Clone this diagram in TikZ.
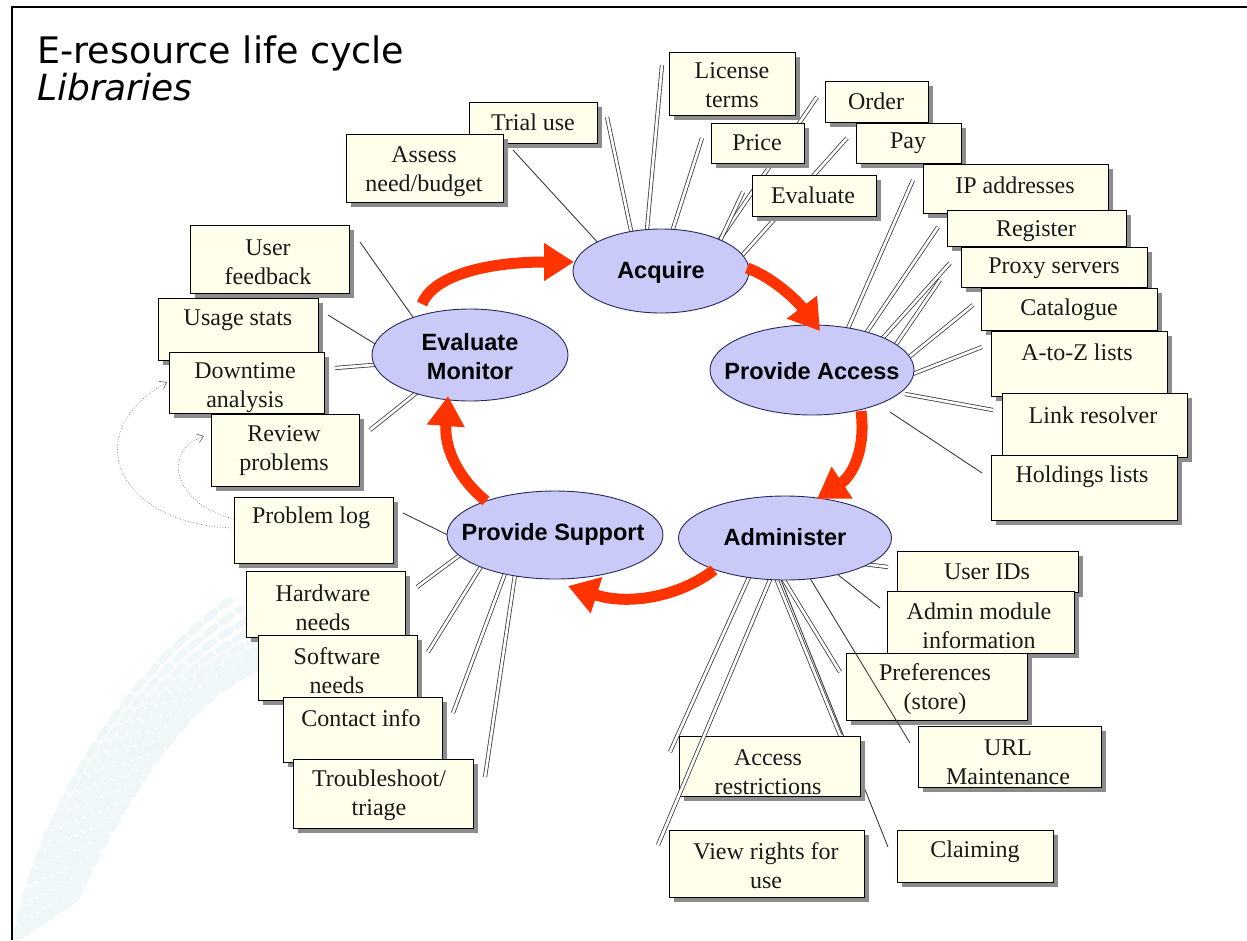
\documentclass[tikz,border=0pt]{standalone}
\usepackage{fontspec}
\setmainfont{Liberation Serif}
\newfontfamily\titlefont{DejaVu Sans}
\newfontfamily\ellfont{Liberation Sans}
\usetikzlibrary{arrows.meta,shadows,shapes.geometric}
\definecolor{boxfill}{RGB}{255,255,236}
\definecolor{ellfill}{RGB}{202,202,248}
\definecolor{elldraw}{RGB}{40,40,90}
\definecolor{redarr}{RGB}{255,51,0}
\definecolor{conn}{RGB}{60,60,60}
\definecolor{wmcol}{RGB}{239,247,249}
\tikzset{
 box/.style={draw=black, line width=1.3pt, fill=boxfill, inner sep=0pt,
   drop shadow={shadow xshift=4pt, shadow yshift=-4pt, fill=black!45, opacity=1}},
 boxtxt/.style={font=\fontsize{24}{29}\selectfont, align=center, inner sep=0pt, text=black!90},
 ell/.style={ellipse, draw=elldraw, line width=0.9pt, fill=ellfill, inner sep=0pt},
 elltxt/.style={font=\ellfont\bfseries\fontsize{23.5}{29}\selectfont, align=center, inner sep=0pt},
 sline/.style={draw=conn, line width=0.9pt},
 dline/.style={draw=conn, line width=0.8pt, double=white, double distance=2.6pt},
 redflow/.style={draw=redarr, line width=11pt, -{Triangle[length=30pt,width=36pt]}},
 dotarr/.style={draw=black!55, line width=0.7pt, dotted, -{Straight Barb[length=6pt,width=9pt,line width=0.7pt]}},
 wmline/.style={draw=wmcol, line width=7pt, line cap=round, dash pattern=on 12pt off 8pt},
}
\newcommand\bx[8]{%
 \pgfmathsetmacro\bw{#4-#2}\pgfmathsetmacro\bh{#5-#3}%
 \node[box, minimum width=\bw pt, minimum height=\bh pt, anchor=north west] (#1) at (#2,#3) {};
 \node[boxtxt] (#1t) at (#6,#7) {#8};}
\begin{document}
\begin{tikzpicture}[x=1pt,y=-1pt]
\useasboundingbox (0,0) rectangle (1247,940);
\fill[white] (0,0) rectangle (1247,940);
% faint watermark
\foreach \k in {0,...,10}{
  \draw[wmline] ({15+\k*6},{940-\k*4}) .. controls ({40+\k*14},{820-\k*14}) and ({110+\k*16},{690-\k*6}) .. ({230+\k*12},{600+\k*8});
}
% frame
\draw[black, line width=2pt] (12,940) -- (12,7) -- (1247,7);
% title
\node[anchor=base west, font=\titlefont\fontsize{36.5}{42}\selectfont, inner sep=0pt] (title) at (37,63) {E-resource life cycle};
\node[anchor=base west, font=\titlefont\itshape\fontsize{36}{42}\selectfont, inner sep=0pt] (subtitle) at (37,100) {Libraries};

% ---- connector lines (under boxes)
% Acquire
\coordinate (a1s) at (600,245); \coordinate (a1e) at (513,150);
\coordinate (a2s) at (633,240); \coordinate (a2e) at (607,117);
\coordinate (a3s) at (646,240); \coordinate (a3e) at (662,65);
\coordinate (a4s) at (671,235); \coordinate (a4e) at (702,138);
\coordinate (a5s) at (716,245); \coordinate (a5e) at (817,97);
\coordinate (a6s) at (718,245); \coordinate (a6e) at (743,192);
\coordinate (a7s) at (738,260); \coordinate (a7e) at (847,138);
\draw[sline] (a1s) -- (a1e);
\draw[dline] (a2s) -- (a2e);
\draw[dline] (a3s) -- (a3e);
\draw[dline] (a4s) -- (a4e);
\draw[dline] (a5s) -- (a5e);
\draw[dline] (a6s) -- (a6e);
\draw[dline] (a7s) -- (a7e);
% Provide Access
\coordinate (p1s) at (842,342); \coordinate (p1e) at (913,180);
\coordinate (p2s) at (858,345); \coordinate (p2e) at (938,227);
\coordinate (p3s) at (872,350); \coordinate (p3e) at (950,263);
\coordinate (p4s) at (888,356); \coordinate (p4e) at (940,280);
\coordinate (p5s) at (898,366); \coordinate (p5e) at (973,305);
\coordinate (p6s) at (905,377); \coordinate (p6e) at (982,347);
\coordinate (p7s) at (905,394); \coordinate (p7e) at (993,410);
\coordinate (p8s) at (890,412); \coordinate (p8e) at (982,473);
\foreach \i in {1,...,7} {\draw[dline] (p\i s) -- (p\i e);}
\draw[sline] (p8s) -- (p8e);
% Evaluate Monitor
\coordinate (e1s) at (422,330); \coordinate (e1e) at (360,242);
\coordinate (e2s) at (385,350); \coordinate (e2e) at (328,315);
\coordinate (e3s) at (385,364); \coordinate (e3e) at (335,368);
\coordinate (e4s) at (420,390); \coordinate (e4e) at (370,430);
\draw[sline] (e1s) -- (e1e);
\draw[sline] (e2s) -- (e2e);
\draw[dline] (e3s) -- (e3e);
\draw[dline] (e4s) -- (e4e);
% Provide Support
\coordinate (s1s) at (458,540); \coordinate (s1e) at (403,513);
\coordinate (s2s) at (464,552); \coordinate (s2e) at (417,587);
\coordinate (s3s) at (482,565); \coordinate (s3e) at (428,652);
\coordinate (s4s) at (507,568); \coordinate (s4e) at (453,713);
\coordinate (s5s) at (516,568); \coordinate (s5e) at (485,777);
\draw[sline] (s1s) -- (s1e);
\foreach \i in {2,...,5} {\draw[dline] (s\i s) -- (s\i e);}
% Administer
\coordinate (d1s) at (855,563); \coordinate (d1e) at (888,567);
\coordinate (d2s) at (832,570); \coordinate (d2e) at (880,608);
\coordinate (d3s) at (779,572); \coordinate (d3e) at (840,672);
\coordinate (d5s) at (776,578); \coordinate (d5e) at (840,735);
\coordinate (d6s) at (750,575); \coordinate (d6e) at (670,752);
\coordinate (dcs) at (781,580); \coordinate (dce) at (888,847);
\draw[dline] (d1s) -- (d1e);
\draw[sline] (d2s) -- (d2e);
\draw[dline] (d3s) -- (d3e);
\draw[dline] (d5s) -- (d5e);
\draw[dline] (d6s) -- (d6e);
\draw[sline] (dcs) -- (dce);

% ---- boxes
\bx{trial}{469}{102}{597}{143}{533}{122}{Trial use}
\bx{assess}{346}{134}{503}{202}{424}{172}{Assess\\need/budget}
\bx{license}{669}{52}{795}{115}{732}{85}{License\\terms}
\bx{price}{711}{123}{804}{163}{757}{143}{Price}
\bx{order}{825}{81}{928}{122}{876}{101}{Order}
\bx{pay}{856}{123}{961}{163}{908}{143}{Pay}
\bx{evalb}{752}{175}{876}{216}{813}{195}{Evaluate}
\bx{ip}{923}{164}{1108}{213}{1015}{185}{IP addresses}
\bx{register}{947}{210}{1126}{246}{1036}{231}{Register}
\bx{proxy}{961}{247}{1147}{287}{1054}{268}{Proxy servers}
\bx{catalogue}{981}{288}{1157}{330}{1069}{310}{Catalogue}
\bx{atoz}{991}{331}{1167}{396}{1077}{352}{A-to-Z lists}
\bx{link}{1002}{393}{1187}{457}{1093}{415}{Link resolver}
\bx{holdings}{991}{455}{1177}{520}{1082}{477}{Holdings lists}
\bx{feedback}{190}{225}{349}{293}{268}{262}{User\\feedback}
\bx{usage}{158}{298}{318}{360}{238}{320}{Usage stats}
\bx{downtime}{169}{352}{324}{413}{245}{388}{Downtime\\analysis}
\bx{review}{211}{414}{359}{486}{284}{451}{Review\\problems}
\bx{problem}{234}{497}{393}{563}{311}{518}{Problem log}
\bx{hardware}{246}{571}{405}{637}{323}{608}{Hardware\\needs}
\bx{software}{258}{635}{417}{700}{337}{671}{Software\\needs}
\bx{contact}{283}{697}{442}{762}{361}{718}{Contact info}
\bx{trouble}{293}{759}{473}{828}{379}{795}{Troubleshoot/\\triage}
\bx{userids}{897}{551}{1078}{592}{987}{572}{User IDs}
\bx{adminmod}{887}{591}{1074}{653}{979}{626}{Admin module\\information}
\bx{prefs}{846}{653}{1027}{720}{935}{689}{Preferences\\(store)}
\bx{url}{918}{726}{1101}{787}{1008}{762}{URL\\Maintenance}
\bx{access}{679}{736}{860}{796}{768}{772}{Access\\restrictions}
\bx{viewrights}{669}{830}{864}{897}{766}{866}{View rights for\\use}
\bx{claiming}{897}{830}{1053}{882}{975}{852}{Claiming}

% ---- lines drawn over boxes
\coordinate (d4s) at (808,575); \coordinate (d4e) at (910,743);
\coordinate (d7s) at (772,575); \coordinate (d7e) at (658,845);
\draw[sline] (d4s) -- (d4e);
\draw[dline] (d7s) -- (d7e);

% ---- ellipses
\node[ell, minimum width=176pt, minimum height=84pt] (acq) at (661,271) {};
\node[ell, minimum width=204pt, minimum height=90pt] (pacc) at (812,370) {};
\node[ell, minimum width=213pt, minimum height=84pt] (adm) at (785,538) {};
\node[ell, minimum width=216pt, minimum height=88pt] (psup) at (555,535) {};
\node[ell, minimum width=196pt, minimum height=92pt] (evm) at (470,355) {};
\node[elltxt] (acqt) at (661,272) {Acquire};
\node[elltxt] (pacct) at (812,371) {Provide Access};
\node[elltxt] (admt) at (785,537) {Administer};
\node[elltxt] (psupt) at (553,534) {Provide Support};
\node[elltxt] (evmt) at (470,357) {Evaluate\\Monitor};

% ---- red cycle arrows
\coordinate (r1s) at (422,304); \coordinate (r1e) at (574,262);
\coordinate (r2s) at (747,268); \coordinate (r2e) at (820,331);
\coordinate (r3s) at (861,411); \coordinate (r3e) at (817,499);
\coordinate (r4s) at (714,570); \coordinate (r4e) at (568,586);
\coordinate (r5s) at (486,501); \coordinate (r5e) at (448,396);
\draw[redflow] (r1s) .. controls (432,278) and (480,262) .. (r1e);
\draw[redflow] (r2s) .. controls (770,276) and (795,298) .. (r2e);
\draw[redflow] (r3s) .. controls (866,450) and (852,476) .. (r3e);
\draw[redflow] (r4s) .. controls (680,596) and (630,606) .. (r4e);
\draw[redflow] (r5s) .. controls (460,480) and (444,450) .. (r5e);

% ---- dotted feedback arrows
\coordinate (f1e) at (167,382); \coordinate (f2e) at (204,436);
\draw[dotarr] (problem.west |- 0,528) .. controls (120,525) and (75,435) .. (f1e);
\draw[dotarr] (problem.west |- 0,519) .. controls (175,505) and (160,452) .. (f2e);
\end{tikzpicture}
\end{document}
